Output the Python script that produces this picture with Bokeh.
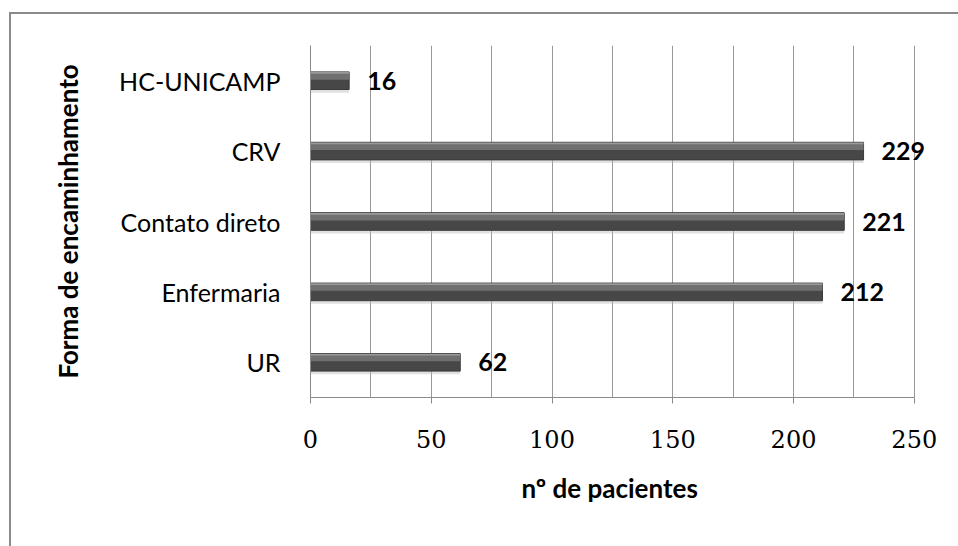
from bokeh.plotting import figure
from bokeh.layouts import column
from bokeh.models import FactorRange, FixedTicker, ColumnDataSource, LabelSet, Title
from bokeh.transform import dodge
from bokeh.core.properties import value
from bokeh.embed import file_html
from bokeh.resources import INLINE

# Referral route vs. number of patients
categories = ["UR", "Enfermaria", "Contato direto", "CRV", "HC-UNICAMP"]
patients = [62, 212, 221, 229, 16]
x_ticks = [0, 50, 100, 150, 200, 250]
grid_ticks = [0, 25, 50, 75, 100, 125, 150, 175, 200, 225, 250]

src = ColumnDataSource(dict(cat=categories, n=patients, lbl=[str(v) for v in patients]))

# frame reaches past 250 so the value labels have room; axis line stops at 250
p = figure(
    width=950, height=532,
    y_range=FactorRange(*categories),
    x_range=(0, 265),
    output_backend="svg", toolbar_location=None,
    min_border_left=299, min_border_right=11,
    min_border_top=31, min_border_bottom=149,
)
p.outline_line_color = None
p.background_fill_color = "white"
p.border_fill_color = "white"

# soft shadow under each bar
p.hbar(y=dodge("cat", -0.035, range=p.y_range), right="n", left=0, height=0.27,
       source=src, fill_color="#bdbdbd", fill_alpha=0.45, line_color=None)
# bar body
p.hbar(y="cat", right="n", left=0, height=0.25, source=src,
       fill_color="#474747", line_color="#3a3a3a", line_width=1)
# bevel highlight on the upper part
p.hbar(y=dodge("cat", 0.06, range=p.y_range), right="n", left=0, height=0.09,
       source=src, fill_color="#707070", line_color=None)
p.hbar(y=dodge("cat", 0.11, range=p.y_range), right="n", left=0, height=0.025,
       source=src, fill_color="#9a9a9a", line_color=None)

# value labels
p.add_layout(LabelSet(x="n", y="cat", text="lbl", source=src, x_offset=18,
                      text_baseline="middle", text_align="left",
                      text_font=value("Lato"), text_font_style="bold",
                      text_font_size="25px", text_color="black"))

# x axis
xa = p.xaxis[0]
xa.ticker = FixedTicker(ticks=x_ticks)
xa.bounds = (0, 250)
xa.major_label_text_font = "DejaVu Serif"
xa.major_label_text_font_size = "24px"
xa.major_label_text_color = "black"
xa.major_label_standoff = 26
xa.major_tick_out = 6
xa.major_tick_in = 0
xa.minor_tick_out = 0
xa.minor_tick_in = 0
xa.axis_line_color = "#8a8a8a"
xa.major_tick_line_color = "#8a8a8a"

# x title, placed under the middle of the 0-250 span
p.add_layout(Title(text="nº de pacientes", align="left", offset=211,
                   text_font="Lato", text_font_style="bold",
                   text_font_size="26px", text_color="black",
                   standoff=38), "below")

# y axis
ya = p.yaxis[0]
ya.axis_label = "Forma de encaminhamento"
ya.axis_label_text_font = "Lato"
ya.axis_label_text_font_style = "bold"
ya.axis_label_text_font_size = "26px"
ya.axis_label_text_color = "black"
ya.axis_label_standoff = 32
ya.major_label_text_font = "Lato"
ya.major_label_text_font_size = "25px"
ya.major_label_text_color = "black"
ya.major_label_standoff = 30
ya.major_tick_out = 0
ya.major_tick_in = 0
ya.axis_line_color = "#8a8a8a"

# grid
p.ygrid.grid_line_color = None
p.xgrid.ticker = FixedTicker(ticks=grid_ticks)
p.xgrid.grid_line_color = "#999999"
p.xgrid.grid_line_width = 1

# chart border: only the top and left edges fall inside the page
layout = column(p, styles={
    "margin-left": "9px", "margin-top": "12px",
    "border-top": "2px solid #8a8a8a", "border-left": "2px solid #8a8a8a",
})

open("out.html", "w").write(file_html(layout, INLINE))
